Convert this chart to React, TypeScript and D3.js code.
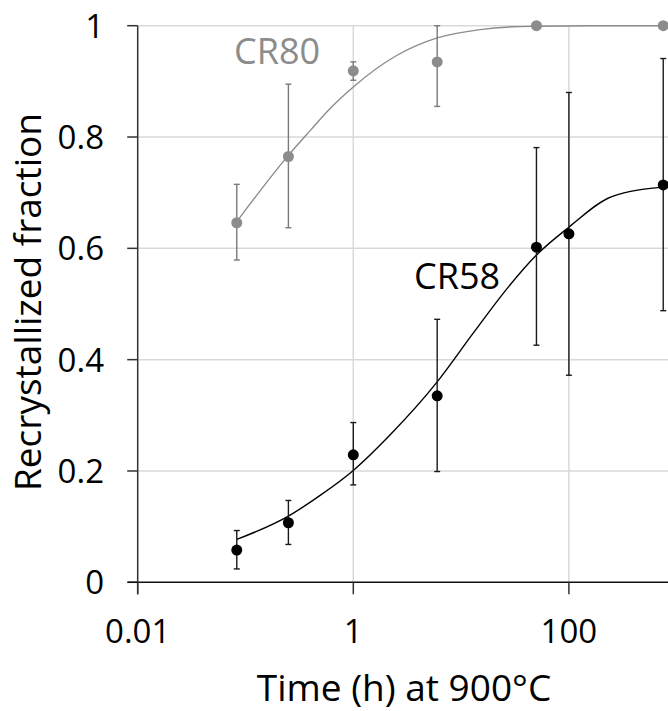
import React from "react";
import * as d3 from "d3";

// ---- Data ----
const cr80Time = [0.083, 0.25, 1, 6, 50, 750];
const cr80Value = [0.646, 0.765, 0.919, 0.935, 1.0, 1.0];
const cr80Low = [0.579, 0.637, 0.902, 0.855, 1.0, 1.0];
const cr80High = [0.715, 0.895, 0.935, 1.0, 1.0, 1.0];

const cr58Time = [0.083, 0.25, 1, 6, 50, 100, 750];
const cr58Value = [0.058, 0.107, 0.229, 0.335, 0.602, 0.626, 0.714];
const cr58Low = [0.024, 0.068, 0.175, 0.199, 0.426, 0.372, 0.488];
const cr58High = [0.093, 0.147, 0.287, 0.4725, 0.781, 0.88, 0.941];

// fitted curves
const cr80FitTime = [0.083, 0.25, 0.4, 0.6, 1, 2.5, 6, 15, 30, 50, 150, 750];
const cr80FitValue = [0.648, 0.767, 0.812, 0.85, 0.89, 0.946, 0.978, 0.993, 0.998, 0.999, 1.0, 1.0];
const cr58FitTime = [0.083, 0.25, 0.5, 1, 2.2, 6, 13, 26, 50, 100, 250, 750];
const cr58FitValue = [0.077, 0.119, 0.157, 0.201, 0.265, 0.36, 0.448, 0.525, 0.588, 0.638, 0.693, 0.71];

const xTicks = [0.01, 1, 100];
const xTickLabels = ["0.01", "1", "100"];
const yTicks = [0, 0.2, 0.4, 0.6, 0.8, 1];
const yTickLabels = ["0", "0.2", "0.4", "0.6", "0.8", "1"];

const W = 668;
const H = 711;
const FONT = "'Open Sans', 'Noto Sans', sans-serif";
const GRAY = "#8c8c8c";
const GRAY_BAR = "#7a7a7a";
const BLACK = "#000";

export default function App() {
  const x = d3.scaleLog().domain([0.01, 1000]).range([137.7, 676.7]);
  const y = d3.scaleLinear().domain([0, 1]).range([582.3, 25.7]);
  const left = 137.7;
  const right = W;

  const line = d3
    .line<[number, number]>()
    .x((d) => x(d[0]))
    .y((d) => y(d[1]))
    .curve(d3.curveMonotoneX);

  const cr80Fit = line(cr80FitTime.map((t, i) => [t, cr80FitValue[i]]) as [number, number][]) || "";
  const cr58Fit = line(cr58FitTime.map((t, i) => [t, cr58FitValue[i]]) as [number, number][]) || "";

  const errBars = (
    times: number[],
    lows: number[],
    highs: number[],
    color: string,
    key: string
  ) =>
    times.map((t, i) => {
      if (highs[i] - lows[i] < 1e-6) return null;
      const cx = x(t);
      return (
        <g key={key + i} stroke={color} strokeWidth={1.4}>
          <line x1={cx} x2={cx} y1={y(lows[i])} y2={y(highs[i])} />
          <line x1={cx - 3} x2={cx + 3} y1={y(lows[i])} y2={y(lows[i])} />
          <line x1={cx - 3} x2={cx + 3} y1={y(highs[i])} y2={y(highs[i])} />
        </g>
      );
    });

  return (
    <svg
      width={W}
      height={H}
      style={{ position: "absolute", left: 0, top: 0, background: "#fff" }}
      fontFamily={FONT}
    >
      <defs>
        <clipPath id="plotClip">
          <rect x={0} y={0} width={right} height={H} />
        </clipPath>
      </defs>
      <rect x={0} y={0} width={W} height={H} fill="#fff" />
      {/* horizontal gridlines */}
      {yTicks
        .filter((v) => v > 0)
        .map((v) => (
          <line
            key={"hg" + v}
            x1={left}
            x2={right}
            y1={y(v)}
            y2={y(v)}
            stroke="#d9d9d9"
            strokeWidth={1.5}
          />
        ))}
      {/* vertical gridlines */}
      {xTicks
        .filter((v) => v > 0.01)
        .map((v) => (
          <line
            key={"vg" + v}
            x1={x(v)}
            x2={x(v)}
            y1={y(1)}
            y2={y(0)}
            stroke="#d9d9d9"
            strokeWidth={1.5}
          />
        ))}
      {/* y axis */}
      <line x1={left} x2={left} y1={y(1)} y2={y(0) + 12} stroke="#333" strokeWidth={1.5} />
      {yTicks.map((v, i) => (
        <g key={"yt" + v}>
          <line x1={left - 10.5} x2={left} y1={y(v)} y2={y(v)} stroke="#333" strokeWidth={1.5} />
          <text
            x={104}
            y={y(v)}
            dy="0.36em"
            textAnchor="end"
            fontSize={33}
            fill="#000"
          >
            {yTickLabels[i]}
          </text>
        </g>
      ))}
      {/* x axis */}
      <line x1={left - 10} x2={right} y1={y(0)} y2={y(0)} stroke="#111" strokeWidth={1.5} />
      {xTicks.map((v, i) => (
        <g key={"xt" + v}>
          <line x1={x(v)} x2={x(v)} y1={y(0)} y2={y(0) + 12} stroke="#333" strokeWidth={1.5} />
          <text x={x(v)} y={643} textAnchor="middle" fontSize={33} fill="#000">
            {xTickLabels[i]}
          </text>
        </g>
      ))}
      {/* axis titles */}
      <text x={404} y={701} textAnchor="middle" fontSize={37} fill="#000">
        Time (h) at 900°C
      </text>
      <text
        transform={`translate(41,302) rotate(-90)`}
        textAnchor="middle"
        fontSize={37}
        fill="#000"
      >
        Recrystallized fraction
      </text>

      <g clipPath="url(#plotClip)">
        {/* fitted curves */}
        <path d={cr80Fit} fill="none" stroke={GRAY} strokeWidth={1.4} />
        <path d={cr58Fit} fill="none" stroke={BLACK} strokeWidth={1.4} />
        {/* error bars */}
        {errBars(cr80Time, cr80Low, cr80High, GRAY_BAR, "e80")}
        {errBars(cr58Time, cr58Low, cr58High, "#1a1a1a", "e58")}
        {/* points */}
        {cr80Time.map((t, i) => (
          <circle key={"p80" + i} cx={x(t)} cy={y(cr80Value[i])} r={5.5} fill={GRAY} />
        ))}
        {cr58Time.map((t, i) => (
          <circle key={"p58" + i} cx={x(t)} cy={y(cr58Value[i])} r={5.5} fill={BLACK} />
        ))}
      </g>

      {/* series labels */}
      <text x={234} y={64} fontSize={36} fill={GRAY}>
        CR80
      </text>
      <text x={414} y={289} fontSize={36} fill="#000">
        CR58
      </text>
    </svg>
  );
}
